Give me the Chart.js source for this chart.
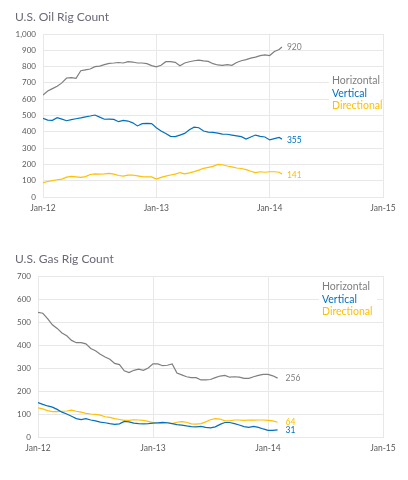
<!DOCTYPE html>
<html lang="en">
<head>
  <meta charset="UTF-8">
  <title>U.S. Rig Count</title>
  <script src="https://cdn.jsdelivr.net/npm/chart.js"></script>
  <style>
    body { margin: 0; background: #fff; font-family: Lato, sans-serif; }
    .box { position: relative; width: 408px; height: 240px; }
  </style>
</head>
<body>
  <div class="box"><canvas id="oil"></canvas></div>
  <div class="box"><canvas id="gas"></canvas></div>

  <script>
    // months since Jan-12
    const oilMonths = [0,0.5,1,1.5,2,2.5,3,3.5,4,4.5,5,5.5,6,6.5,7,7.5,8,8.5,9,9.5,10,10.5,11,11.5,12,12.5,
      13,13.5,14,14.5,15,15.5,16,16.5,17,17.5,18,18.5,19,19.5,20,20.5,21,21.5,22,22.5,23,23.5,24,24.5,25,25.3];
    const oilHorizontal = [625,650,665,680,700,730,732,728,775,780,785,800,803,812,820,822,825,822,830,828,822,822,818,806,798,808,
      830,830,826,805,822,830,836,840,835,832,818,810,808,812,808,825,836,843,852,858,867,872,868,893,905,920];
    const oilVertical = [482,472,470,487,478,468,475,480,485,492,497,503,490,477,478,476,462,470,466,455,436,450,452,450,425,405,
      390,372,370,380,390,412,428,425,405,398,397,392,386,385,380,375,370,356,368,380,372,368,350,358,365,355];
    const oilDirectional = [88,95,100,106,110,122,126,124,120,125,138,142,140,142,145,140,132,128,134,135,130,125,124,123,110,120,
      128,135,140,150,142,148,156,165,176,182,188,200,198,190,185,178,175,168,158,150,155,152,155,155,152,141];

    const gasMonths = [0,0.5,1,1.5,2,2.5,3,3.5,4,4.5,5,5.5,6,6.5,7,7.5,8,8.5,9,9.5,10,10.5,11,11.5,12,12.5,
      13,13.5,14,14.5,15,15.5,16,16.5,17,17.5,18,18.5,19,19.5,20,20.5,21,21.5,22,22.5,23,23.5,24,24.5,25];
    const gasHorizontal = [542,538,515,488,472,452,440,420,410,410,405,385,375,360,348,338,320,315,288,280,290,295,290,300,318,318,
      310,312,318,278,270,262,258,258,248,248,250,258,265,268,260,262,260,255,255,262,268,272,272,266,256];
    const gasVertical = [150,142,135,130,120,108,100,90,80,76,80,74,70,65,62,58,55,57,68,66,60,58,57,58,60,62,
      64,62,58,54,52,48,45,44,46,42,40,44,55,63,63,58,52,45,42,46,42,35,29,29,31];
    const gasDirectional = [127,122,115,110,110,112,113,117,112,108,103,100,98,95,88,85,80,76,72,72,75,74,72,68,63,58,
      60,62,58,64,67,64,57,56,58,66,75,80,78,70,70,74,74,72,74,73,74,74,72,70,64];

    const seriesNames = ['Horizontal', 'Vertical', 'Directional'];
    const seriesColors = ['#7f7f7f', '#0070c0', '#ffc000'];
    const tickMonths = [0, 12, 24, 36];
    const tickLabels = ['Jan-12', 'Jan-13', 'Jan-14', 'Jan-15'];

    const FONT = 'Lato, sans-serif';

    // legend text box + end-of-line value labels
    const labelsPlugin = {
      id: 'rigLabels',
      afterDatasetsDraw(chart, args, opts) {
        const ctx = chart.ctx;
        ctx.save();
        ctx.font = '8.5px ' + FONT;
        ctx.textBaseline = 'middle';
        ctx.textAlign = 'left';
        chart.data.datasets.forEach((ds, i) => {
          const meta = chart.getDatasetMeta(i);
          const pt = meta.data[meta.data.length - 1];
          const last = ds.data[ds.data.length - 1].y;
          ctx.fillStyle = ds.borderColor;
          ctx.fillText(String(last), pt.x + opts.dx, pt.y + (opts.dy[i] || 0));
        });
        const lx = opts.legendX, ly = opts.legendY;
        ctx.fillStyle = '#fff';
        ctx.fillRect(lx - 3, ly - 8, opts.legendW, 42);
        ctx.font = '10.5px ' + FONT;
        chart.data.datasets.forEach((ds, i) => {
          ctx.fillStyle = ds.borderColor;
          ctx.fillText(ds.label, lx, ly + i * 12.5);
        });
        ctx.restore();
      }
    };

    function makeChart(id, title, months, series, yMax, yWidth, titlePadTop, lbl) {
      return new Chart(document.getElementById(id), {
        type: 'line',
        data: {
          datasets: series.map((vals, i) => ({
            label: seriesNames[i],
            data: vals.map((v, k) => ({ x: months[k], y: v })),
            borderColor: seriesColors[i],
            backgroundColor: seriesColors[i],
            borderWidth: 1.2,
            pointRadius: 0,
            tension: 0
          }))
        },
        options: {
          responsive: true,
          maintainAspectRatio: false,
          animation: false,
          layout: { padding: { left: 15, right: 25, top: 0, bottom: 0 } },
          plugins: {
            legend: { display: false },
            tooltip: { enabled: false },
            title: {
              display: true,
              text: title,
              align: 'start',
              color: '#6b6878',
              font: { family: FONT, size: 12, weight: 'normal', lineHeight: 1.2 },
              padding: { top: titlePadTop, bottom: 9.6 }
            },
            rigLabels: lbl
          },
          scales: {
            x: {
              type: 'linear',
              min: 0,
              max: 36,
              afterBuildTicks(scale) { scale.ticks = tickMonths.map(v => ({ value: v })); },
              ticks: {
                callback: (v) => tickLabels[tickMonths.indexOf(v)],
                color: '#595959',
                font: { family: FONT, size: 8.5 },
                padding: 6,
                maxRotation: 0
              },
              grid: { color: '#e8e8e8', drawTicks: false },
              border: { color: '#e8e8e8' },
              afterFit(scale) { scale.height = 43; }
            },
            y: {
              min: 0,
              max: yMax,
              ticks: {
                stepSize: 100,
                color: '#595959',
                font: { family: FONT, size: 8 },
                padding: 7
              },
              grid: { color: '#e8e8e8', drawTicks: false },
              border: { color: '#e8e8e8' },
              afterFit(scale) { scale.width = yWidth; }
            }
          }
        },
        plugins: [labelsPlugin]
      });
    }

    makeChart('oil', 'U.S. Oil Rig Count', oilMonths,
      [oilHorizontal, oilVertical, oilDirectional], 1000, 28, 10,
      { dx: 5, dy: [0, 1, 1], legendX: 332, legendY: 81, legendW: 52 });

    makeChart('gas', 'U.S. Gas Rig Count', gasMonths,
      [gasHorizontal, gasVertical, gasDirectional], 700, 23, 12,
      { dx: 8, dy: [0, 0, 0], legendX: 322, legendY: 47, legendW: 58 });
  </script>
</body>
</html>
